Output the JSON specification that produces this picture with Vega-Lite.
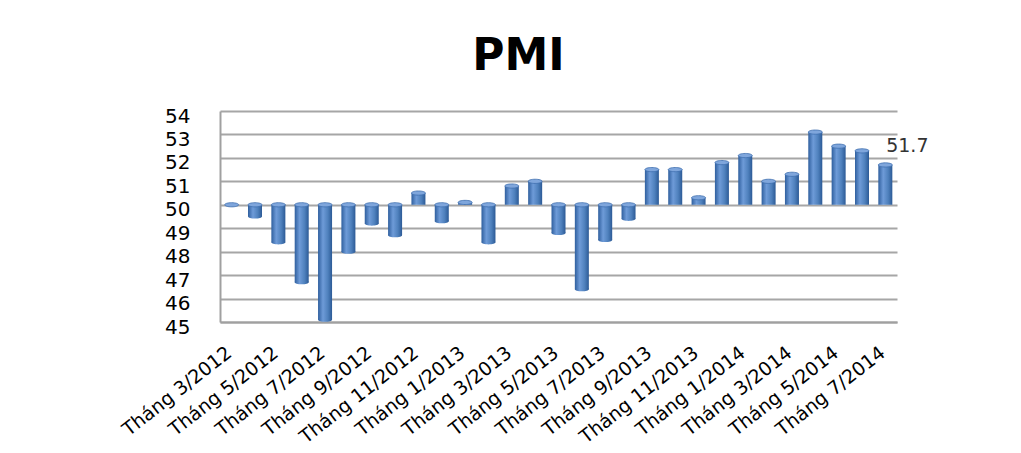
{
  "$schema": "https://vega.github.io/schema/vega-lite/v6.json",
  "autosize": {"type": "none"},
  "padding": {"left": 220, "top": 111, "right": 124, "bottom": 131},
  "width": 677,
  "height": 211,
  "background": "white",
  "title": {
    "text": "PMI",
    "font": "DejaVu Sans",
    "fontSize": 44,
    "fontWeight": "bold",
    "color": "#000000",
    "anchor": "middle",
    "frame": "group",
    "dx": -40,
    "offset": 27
  },
  "config": {
    "view": {"stroke": null},
    "font": "DejaVu Sans"
  },
  "data": {
    "values": [
      {"month": "Tháng 3/2012", "pmi": 50.0},
      {"month": "Tháng 4/2012", "pmi": 49.5},
      {"month": "Tháng 5/2012", "pmi": 48.4},
      {"month": "Tháng 6/2012", "pmi": 46.7},
      {"month": "Tháng 7/2012", "pmi": 45.1},
      {"month": "Tháng 8/2012", "pmi": 48.0},
      {"month": "Tháng 9/2012", "pmi": 49.2},
      {"month": "Tháng 10/2012", "pmi": 48.7},
      {"month": "Tháng 11/2012", "pmi": 50.5},
      {"month": "Tháng 12/2012", "pmi": 49.3},
      {"month": "Tháng 1/2013", "pmi": 50.1},
      {"month": "Tháng 2/2013", "pmi": 48.4},
      {"month": "Tháng 3/2013", "pmi": 50.8},
      {"month": "Tháng 4/2013", "pmi": 51.0},
      {"month": "Tháng 5/2013", "pmi": 48.8},
      {"month": "Tháng 6/2013", "pmi": 46.4},
      {"month": "Tháng 7/2013", "pmi": 48.5},
      {"month": "Tháng 8/2013", "pmi": 49.4},
      {"month": "Tháng 9/2013", "pmi": 51.5},
      {"month": "Tháng 10/2013", "pmi": 51.5},
      {"month": "Tháng 11/2013", "pmi": 50.3},
      {"month": "Tháng 12/2013", "pmi": 51.8},
      {"month": "Tháng 1/2014", "pmi": 52.1},
      {"month": "Tháng 2/2014", "pmi": 51.0},
      {"month": "Tháng 3/2014", "pmi": 51.3},
      {"month": "Tháng 4/2014", "pmi": 53.1},
      {"month": "Tháng 5/2014", "pmi": 52.5},
      {"month": "Tháng 6/2014", "pmi": 52.3},
      {"month": "Tháng 7/2014", "pmi": 51.7}
    ]
  },
  "encoding": {
    "x": {
      "field": "month",
      "type": "ordinal",
      "sort": null,
      "scale": {"paddingInner": 0.4, "paddingOuter": 0.2},
      "axis": {
        "title": null,
        "values": ["Tháng 3/2012", "Tháng 5/2012", "Tháng 7/2012", "Tháng 9/2012", "Tháng 11/2012", "Tháng 1/2013", "Tháng 3/2013", "Tháng 5/2013", "Tháng 7/2013", "Tháng 9/2013", "Tháng 11/2013", "Tháng 1/2014", "Tháng 3/2014", "Tháng 5/2014", "Tháng 7/2014"],
        "labelAngle": -38,
        "labelFontSize": 19,
        "labelFont": "DejaVu Sans",
        "labelColor": "#000000",
        "labelPadding": 21,
        "labelOffset": -8,
        "labelOverlap": false,
        "ticks": false,
        "domainColor": "#a0a0a0",
        "domainWidth": 2,
        "grid": false
      }
    },
    "y": {
      "field": "pmi",
      "type": "quantitative",
      "scale": {"domain": [45, 54], "zero": false, "nice": false},
      "axis": {
        "title": null,
        "values": [45, 46, 47, 48, 49, 50, 51, 52, 53, 54],
        "tickCount": 20,
        "format": "d",
        "labelFontSize": 20,
        "labelFont": "DejaVu Sans",
        "labelColor": "#000000",
        "labelPadding": 30,
        "labelOffset": 5,
        "labelOverlap": false,
        "ticks": false,
        "domainColor": "#a0a0a0",
        "domainWidth": 2,
        "grid": true,
        "gridColor": "#a6a6a6",
        "gridWidth": 2
      }
    }
  },
  "layer": [
    {
      "mark": {
        "type": "bar",
        "color": {
          "x1": 0, "y1": 0, "x2": 1, "y2": 0,
          "gradient": "linear",
          "stops": [
            {"offset": 0, "color": "#2f5f9e"},
            {"offset": 0.35, "color": "#6e9bd8"},
            {"offset": 0.7, "color": "#4f81bd"},
            {"offset": 1, "color": "#2c5a96"}
          ]
        }
      },
      "encoding": {
        "y2": {"datum": 50}
      }
    },
    {
      "transform": [{"filter": "datum.pmi < 50"}],
      "mark": {
        "type": "point",
        "filled": true,
        "size": 196,
        "opacity": 1,
        "shape": "M -1 0 A 1 0.3 0 1 1 1 0 A 1 0.3 0 1 1 -1 0 Z",
        "color": {
          "x1": 0, "y1": 0, "x2": 1, "y2": 0,
          "gradient": "linear",
          "stops": [
            {"offset": 0, "color": "#2f5f9e"},
            {"offset": 0.35, "color": "#6e9bd8"},
            {"offset": 0.7, "color": "#4f81bd"},
            {"offset": 1, "color": "#2c5a96"}
          ]
        }
      },
      "encoding": {}
    },
    {
      "transform": [{"filter": "datum.pmi < 50"}],
      "mark": {
        "type": "point",
        "filled": true,
        "size": 196,
        "opacity": 1,
        "shape": "M -1 0 A 1 0.3 0 1 1 1 0 A 1 0.3 0 1 1 -1 0 Z",
        "color": "#7fa6dc",
        "stroke": "#3f6fae",
        "strokeWidth": 0.8
      },
      "encoding": {
        "y": {"datum": 50, "type": "quantitative"}
      }
    },
    {
      "transform": [{"filter": "datum.pmi >= 50"}],
      "mark": {
        "type": "point",
        "filled": true,
        "size": 196,
        "opacity": 1,
        "shape": "M -1 0 A 1 0.3 0 1 1 1 0 A 1 0.3 0 1 1 -1 0 Z",
        "color": "#7fa6dc",
        "stroke": "#3f6fae",
        "strokeWidth": 0.8
      },
      "encoding": {}
    },
    {
      "transform": [{"filter": "datum.month == 'Tháng 7/2014'"}],
      "mark": {
        "type": "text",
        "font": "DejaVu Sans",
        "fontSize": 19,
        "color": "#333333",
        "dx": 22,
        "dy": -19
      },
      "encoding": {
        "text": {"field": "pmi", "type": "quantitative", "format": ".1f"}
      }
    }
  ]
}
